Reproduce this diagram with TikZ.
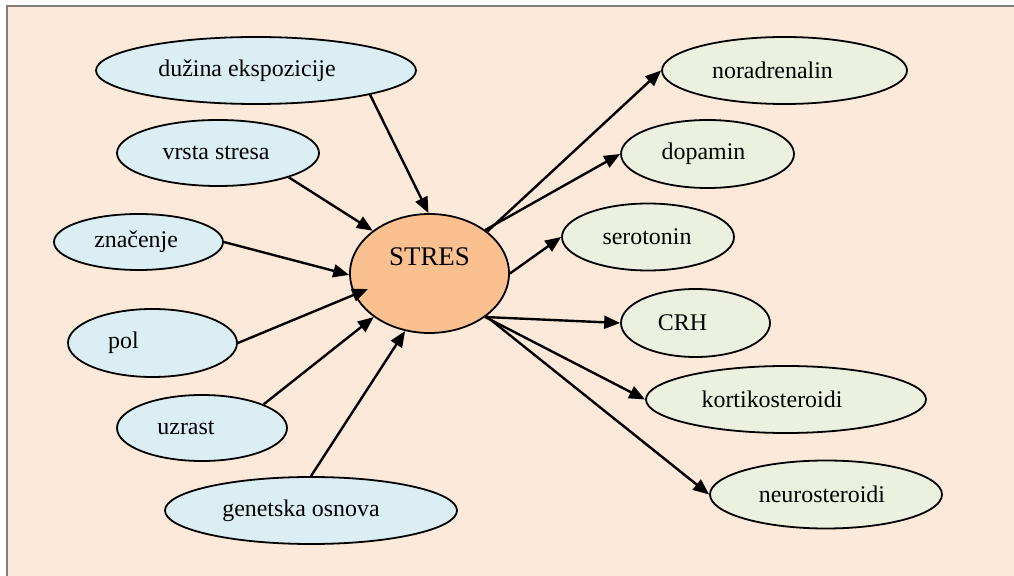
\documentclass[tikz,border=0pt]{standalone}
\usepackage{fontspec}
\setmainfont{Liberation Serif}
\usetikzlibrary{shapes.geometric,arrows.meta}
\definecolor{bgpeach}{HTML}{FDE9D9}
\definecolor{inblue}{HTML}{DAEEF3}
\definecolor{outgreen}{HTML}{EBF1DE}
\definecolor{stresorange}{HTML}{FAC090}
\definecolor{framegray}{HTML}{7F7F7F}
\begin{document}
\begin{tikzpicture}[x=0.5bp,y=-0.5bp,
  el/.style={ellipse,draw=black,line width=0.9pt,inner sep=0pt},
  inel/.style={el,fill=inblue},
  outel/.style={el,fill=outgreen},
  lab/.style={font=\fontsize{12}{14}\selectfont,inner sep=0pt},
  arr/.style={line width=1.2pt,-{Triangle[length=8pt,width=6.5pt]}}]
\useasboundingbox (0,0) rectangle (1014,576);
\fill[white] (-10,-10) rectangle (1030,590);
\fill[bgpeach] (7,6) rectangle (1030,590);
\draw[framegray,line width=1pt] (7,600) -- (7,6) -- (1040,6);

% centre
\node[el,fill=stresorange,minimum width=79.5bp,minimum height=59.5bp,
  label={[font=\fontsize{13.5}{15}\selectfont,inner sep=0pt,yshift=8.2bp]center:STRES}] (stres) at (429.5,273.5) {};

% inputs
\node[inel,minimum width=160bp,minimum height=33.5bp,
  label={[lab,xshift=-4.5bp]center:dužina ekspozicije}] (dur) at (256,70.5) {};
\node[inel,minimum width=101bp,minimum height=33bp,
  label={[lab,xshift=-1bp]center:vrsta stresa}] (vrs) at (218,153) {};
\node[inel,minimum width=84.5bp,minimum height=28bp,
  label={[lab,xshift=-1.2bp]center:značenje}] (zna) at (138.5,242) {};
\node[inel,minimum width=84.5bp,minimum height=34bp,
  label={[lab,xshift=-14.5bp]center:pol}] (pol) at (152.5,343) {};
\node[inel,minimum width=85bp,minimum height=33bp,
  label={[lab,xshift=-8bp]center:uzrast}] (uzr) at (202,428) {};
\node[inel,minimum width=146bp,minimum height=33.5bp,
  label={[lab,xshift=-5bp]center:genetska osnova}] (gen) at (311,510.5) {};

% outputs
\node[outel,minimum width=122.5bp,minimum height=33.5bp,
  label={[lab,xshift=-6bp]center:noradrenalin}] (nor) at (784.5,70.5) {};
\node[outel,minimum width=86.5bp,minimum height=34bp,
  label={[lab,xshift=-2bp]center:dopamin}] (dop) at (707.5,154) {};
\node[outel,minimum width=86bp,minimum height=33.5bp,
  label={[lab,xshift=-0.5bp]center:serotonin}] (ser) at (648,237) {};
\node[outel,minimum width=74.5bp,minimum height=34bp,
  label={[lab,xshift=-6.5bp]center:CRH}] (crh) at (695.5,323) {};
\node[outel,minimum width=140bp,minimum height=33.5bp,
  label={[lab,xshift=-7bp]center:kortikosteroidi}] (kor) at (786,399.5) {};
\node[outel,minimum width=116bp,minimum height=34bp,
  label={[lab,xshift=-2bp]center:neurosteroidi}] (neu) at (826,494.5) {};

\path (stres.center) ++(-61.5,15.5) coordinate (poltip);

% incoming arrows
\draw[arr] (dur.-12.6) -- (stres.91.4);
\draw[arr] (vrs.-19.1) -- (stres.143.5);
\draw[arr] (zna.-0.7) -- (stres.181);
\draw[arr] (pol.0) -- (poltip);
\draw[arr] (uzr.21.5) -- (stres.218.2);
\draw[arr] (gen.90) -- (stres.247.4);

% outgoing arrows
\draw[arr] (stres.36) -- (nor.180);
\draw[arr] (stres.38) -- (dop.180);
\draw[arr] (stres.0.4) -- (ser.180);
\draw[arr] (stres.-38.6) -- (crh.180);
\draw[arr] (stres.-38) -- (kor.180);
\draw[arr] (stres.-37.5) -- (neu.180);
\end{tikzpicture}
\end{document}
